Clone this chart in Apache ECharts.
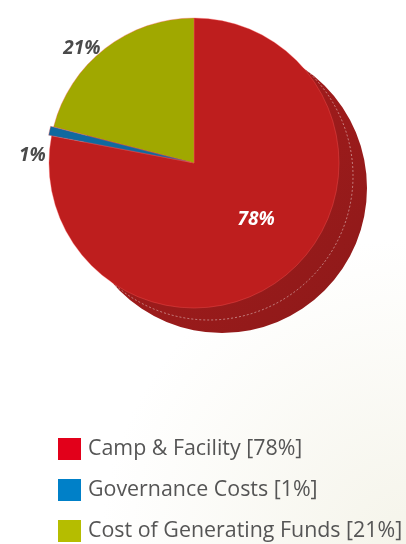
<!DOCTYPE html>
<html>
<head>
<meta charset="utf-8">
<script src="https://cdn.jsdelivr.net/npm/echarts@6/dist/echarts.min.js"></script>
<style>
  html, body { margin: 0; padding: 0; background: #fff; }
  #main { width: 406px; height: 544px; }
</style>
</head>
<body>
<div id="main"></div>
<script>
// 数据
var names = ["Camp & Facility", "Governance Costs", "Cost of Generating Funds"];
var values = [78, 1, 21];
var sliceColors = ["#be1e1e", "#10699f", "#a0a800"];
var legendColors = ["#e2001a", "#0080c8", "#b5bd00"];
// 标签位置微调
var labelShift = [[14, -2], [7, 26], [4, 5]];

var myChart = echarts.init(document.getElementById("main"), null, { renderer: "canvas" });

var frontData = [];
for (var i = 0; i < names.length; i++) {
  frontData.push({
    name: names[i],
    value: values[i],
    selected: i === 1,
    itemStyle: { color: sliceColors[i] },
    label: i === 0
      ? { position: "inside", color: "#fff" }
      : { position: "outside", color: "#4a4a4a" },
  });
}

var option = {
  backgroundColor: {
    type: "radial", x: 1, y: 1, r: 0.75,
    colorStops: [
      { offset: 0, color: "#f5f4ea" },
      { offset: 1, color: "#ffffff" },
    ],
  },
  animation: false,
  legend: {
    orient: "vertical",
    left: 58,
    top: 438,
    padding: 0,
    itemWidth: 23,
    itemHeight: 22,
    itemGap: 19,
    icon: "rect",
    selectedMode: false,
    textStyle: { fontFamily: "Open Sans", fontSize: 21.4, color: "#555", padding: [0, 0, 0, 2] },
    formatter: function (n) {
      return n + " [" + values[names.indexOf(n)] + "%]";
    },
    data: names.map(function (n, i) {
      return { name: n, itemStyle: { color: legendColors[i] } };
    }),
  },
  series: [
    {
      // 侧面（厚度）
      type: "pie",
      silent: true,
      center: [222, 188],
      radius: 145,
      startAngle: 90,
      itemStyle: {
        color: {
          type: "linear", x: 0, y: 0, x2: 1, y2: 1,
          colorStops: [
            { offset: 0, color: "#b01e1e" },
            { offset: 1, color: "#8c1919" },
          ],
        },
      },
      label: { show: false },
      labelLine: { show: false },
      data: values.map(function (v, i) { return { name: names[i], value: v }; }),
    },
    {
      // 侧面虚线
      type: "pie",
      silent: true,
      center: [209, 176],
      radius: 144,
      itemStyle: {
        color: "transparent",
        borderColor: "rgba(255,255,255,0.55)",
        borderWidth: 0.8,
        borderType: [2, 2],
      },
      label: { show: false },
      labelLine: { show: false },
      data: [{ name: "", value: 1 }],
    },
    {
      type: "pie",
      center: [194, 163],
      radius: 145,
      startAngle: 90,
      selectedMode: "single",
      selectedOffset: 3,
      itemStyle: { borderColor: "rgba(255,90,90,0.45)", borderWidth: 0.8 },
      label: {
        show: true,
        formatter: "{c}%",
        fontFamily: "Open Sans",
        fontSize: 19,
        fontWeight: "bold",
        fontStyle: "italic",
      },
      labelLine: { show: false, length: 6, length2: 0 },
      labelLayout: function (p) {
        return { dx: labelShift[p.dataIndex][0], dy: labelShift[p.dataIndex][1] };
      },
      data: frontData,
    },
  ],
};

myChart.setOption(option);
</script>
</body>
</html>
